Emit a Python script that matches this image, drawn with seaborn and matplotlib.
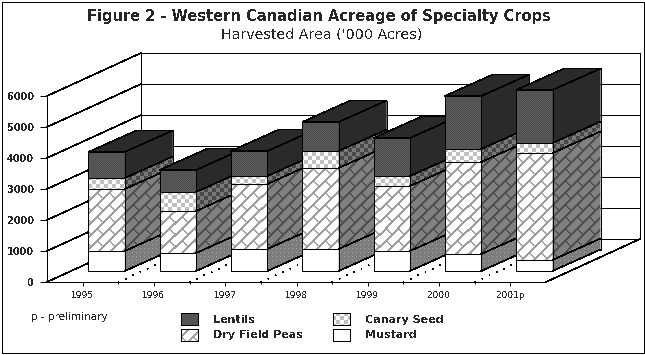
import numpy as np
import matplotlib
matplotlib.use("Agg")
import matplotlib.pyplot as plt
import seaborn as sns
from matplotlib.patches import Polygon, Rectangle, Patch
from matplotlib.transforms import IdentityTransform

# Values ('000 acres)
YEARS = ["1995", "1996", "1997", "1998", "1999", "2000", "2001p"]
MUSTARD = [645, 580, 710, 710, 645, 548, 355]
PEAS = [2000, 1355, 2096, 2612, 2097, 2968, 3451]
CANARY = [355, 615, 259, 548, 323, 419, 323]
LENTILS = [840, 710, 805, 936, 1225, 1710, 1710]
Y_TICKS = [0, 1000, 2000, 3000, 4000, 5000, 6000]

W, H = 645, 355
LW = 0.72  # one pixel at 100 dpi
DIAG_LW = 0.45  # aliased slanted lines come out too heavy at LW

sns.set_style("white")
plt.rcParams["font.family"] = ["DejaVu Sans"]
plt.rcParams["text.antialiased"] = False
plt.rcParams["lines.antialiased"] = False
plt.rcParams["patch.antialiased"] = False


def box(left, top, right, bottom):
    """Axes rectangle from pixel edges (y counted from the top)."""
    return [left / W, 1 - bottom / H, (right - left) / W, (bottom - top) / H]


def shade(v):
    return np.array([v, v, v]) / 255


def check_tile(a, b, n=4):
    yy, xx = np.indices((2 * n, 2 * n))
    mask = ((xx // n + yy // n) % 2) == 0
    return np.where(mask[..., None], shade(a), shade(b))


def brick_tile(line, bg, n=12):
    yy, xx = np.indices((2 * n, 2 * n))
    stripes = ((xx + yy) % n) < 3
    row = (xx + yy) // n
    cross = ((xx - yy + row * n) % (2 * n)) < 2
    mask = stripes | cross
    return np.where(mask[..., None], shade(line), shade(bg))


def stipple_tile(a, b):
    yy, xx = np.indices((2, 2))
    mask = (xx + yy) % 2 == 0
    return np.where(mask[..., None], shade(a), shade(b))


def dots_tile(dot, bg):
    yy, xx = np.indices((4, 4))
    mask = (xx % 4 == 0) & (yy % 4 == 0)
    return np.where(mask[..., None], shade(dot), shade(bg))


def page(tile):
    """Repeat a pattern tile over the whole figure, one cell per pixel."""
    ny = H // tile.shape[0] + 1
    nx = W // tile.shape[1] + 1
    return np.tile(tile, (ny, nx, 1))[:H, :W]


FRONT = {
    "lentils": page(stipple_tile(76, 92)),
    "canary": page(check_tile(192, 255)),
    "peas": page(brick_tile(160, 255)),
    "mustard": page(np.ones((1, 1, 3))),
}
SIDE = {
    "lentils": page(np.full((1, 1, 3), 42 / 255)),
    "canary": page(check_tile(72, 120)),
    "peas": page(brick_tile(80, 128)),
    "mustard": page(dots_tile(160, 125)),
}


def fill_texture(ax, img, clip, z):
    ax.autoscale(False)
    im = ax.imshow(img, extent=(0, 1, 0, 1), transform=ax.figure.transFigure,
                   interpolation="nearest", aspect="auto", zorder=z, origin="upper")
    im.set_clip_path(clip)
    if not isinstance(clip, Rectangle):
        im.set_clip_box(ax.figure.bbox)
    return im


fig = plt.figure(figsize=(W / 100, H / 100), dpi=100, facecolor="white")

# Front plane of the chart: walls, axes and labels
ax = fig.add_axes(box(47, 96, 546, 282), facecolor="none")
ax.set_xlim(-0.5, 6.5)
ax.set_ylim(0, 6000)

# Oblique depth of the chart box, in data units
DEPTH_X = 94 / (499 / 7)
DEPTH_Y = 43 / 31 * 1000

for v in Y_TICKS:
    ax.plot([-0.5, -0.5 + DEPTH_X], [v, v + DEPTH_Y], color="black", lw=DIAG_LW, clip_on=False, zorder=1)
    ax.plot([-0.5 + DEPTH_X, 6.5 + DEPTH_X], [v + DEPTH_Y, v + DEPTH_Y], color="black", lw=LW, clip_on=False, zorder=1)
ax.plot([-0.5 + DEPTH_X] * 2, [DEPTH_Y, 6000 + DEPTH_Y], color="black", lw=LW, clip_on=False, zorder=1)
ax.plot([6.5 + DEPTH_X] * 2, [DEPTH_Y, 6000 + DEPTH_Y], color="black", lw=LW, clip_on=False, zorder=1)
ax.plot([6.5, 6.5 + DEPTH_X], [0, DEPTH_Y], color="black", lw=DIAG_LW, clip_on=False, zorder=1)

# Dotted floor lines at the category edges
for k in range(1, 7):
    ax.plot([k - 0.5, k - 0.5 + DEPTH_X], [0, DEPTH_Y], color="black", lw=LW,
            ls=(0, (1, 7)), clip_on=False, zorder=1)

ax.set_xticks(range(len(YEARS)))
ax.set_xticklabels(YEARS, fontsize=6.5)
ax.set_xticks([k - 0.5 for k in range(1, 7)], minor=True)
ax.set_yticks(Y_TICKS)
ax.set_yticklabels([str(v) for v in Y_TICKS], fontsize=7, fontweight="bold")
ax.tick_params(axis="x", which="major", length=3, width=LW, color="black", pad=3.5, bottom=True)
ax.tick_params(axis="x", which="minor", length=1.5, width=LW, color="black", bottom=True)
ax.tick_params(axis="y", length=5, width=LW, color="black", pad=4.3, left=True)
for side in ["top", "right"]:
    ax.spines[side].set_visible(False)
for side in ["left", "bottom"]:
    ax.spines[side].set_color("black")
    ax.spines[side].set_linewidth(LW)

# Bars stand a little way back from the front plane
bar_ax = fig.add_axes(box(47 + 24, 96 - 11, 546 + 24, 282 - 11), facecolor="none")

mustard = np.array(MUSTARD)
peas = mustard + np.array(PEAS)
canary = peas + np.array(CANARY)
lentils = canary + np.array(LENTILS)
stack = [("lentils", lentils), ("canary", canary), ("peas", peas), ("mustard", mustard)]
floors = {"lentils": canary, "canary": peas, "peas": mustard, "mustard": np.zeros(7)}

BAR_W = 0.51
BAR_DX = 48 / (499 / 7)
BAR_DY = 21.5 / 31 * 1000

for s, (name, tops) in enumerate(stack):
    sns.barplot(x=YEARS, y=tops, ax=bar_ax, color="white", saturation=1, width=BAR_W,
                edgecolor="black", linewidth=LW, errorbar=None)
    bars = bar_ax.containers[-1]
    for i, patch in enumerate(bars):
        z = 10 + i + s * 0.1
        patch.set_facecolor("none")
        patch.set_zorder(z + 0.05)
        patch.set_clip_on(False)

bar_ax.set_xlim(-0.5, 6.5)
bar_ax.set_ylim(0, 6000)
bar_ax.axis("off")

for s, (name, tops) in enumerate(stack):
    bars = bar_ax.containers[s]
    for i, patch in enumerate(bars):
        z = 10 + i + s * 0.1
        fill_texture(bar_ax, FRONT[name], patch, z)
        x1 = i + BAR_W / 2
        lo, hi = floors[name][i], tops[i]
        side = Polygon([(x1, lo), (x1 + BAR_DX, lo + BAR_DY), (x1 + BAR_DX, hi + BAR_DY), (x1, hi)],
                       closed=True, facecolor="none", edgecolor="none", zorder=z, clip_on=False)
        bar_ax.add_patch(side)
        fill_texture(bar_ax, SIDE[name], side, z)
        # one line per segment boundary, so shared edges are not drawn twice
        bar_ax.plot([x1, x1 + BAR_DX], [lo, lo + BAR_DY], color="black", lw=DIAG_LW, zorder=z + 0.5, clip_on=False)
        bar_ax.plot([x1 + BAR_DX] * 2, [lo + BAR_DY, hi + BAR_DY], color="black", lw=LW, zorder=z + 0.5, clip_on=False)
        if name == "lentils":
            x0 = i - BAR_W / 2
            roof = Polygon([(x0, hi), (x1, hi), (x1 + BAR_DX, hi + BAR_DY), (x0 + BAR_DX, hi + BAR_DY)],
                           closed=True, facecolor="#2a2a2a", edgecolor="black", lw=DIAG_LW, zorder=z + 0.5, clip_on=False)
            bar_ax.add_patch(roof)

# Titles and note
fig.text(318.5 / W, 1 - 17 / H, "Figure 2 - Western Canadian Acreage of Specialty Crops",
         ha="center", va="center", fontsize=10.5, fontweight="bold")
fig.text(321.5 / W, 1 - 35 / H, "Harvested Area ('000 Acres)", ha="center", va="center", fontsize=10.3)
fig.text(31 / W, 1 - 317 / H, "p - preliminary", ha="left", va="center", fontsize=7.5)

# Legend, column by column
handles = [Patch(facecolor="none", edgecolor="black", lw=LW, label=lab)
           for lab in ["Lentils", "Dry Field Peas", "Canary Seed", "Mustard"]]
leg = ax.legend(handles=handles, ncols=2, loc="upper left", frameon=False,
                bbox_to_anchor=(181 / W, 1 - 313 / H), bbox_transform=fig.transFigure,
                prop={"size": 8, "weight": "bold"}, borderpad=0, borderaxespad=0,
                handlelength=1.53, handleheight=1.26, handletextpad=1.35,
                labelspacing=0.35, columnspacing=2.7)
fig.canvas.draw()
for handle, name in zip(leg.legend_handles, ["lentils", "peas", "canary", "mustard"]):
    ext = handle.get_window_extent()
    clip = Rectangle((ext.x0, ext.y0), ext.width, ext.height, transform=IdentityTransform())
    fill_texture(ax, FRONT[name], clip, 4)

# Outer frame of the picture
fig.add_artist(Rectangle((1.5 / W, 1 - 353 / H), 642.5 / W, 351.5 / H, transform=fig.transFigure,
                         facecolor="none", edgecolor="black", lw=LW))

fig.savefig("out.png", dpi=100)
